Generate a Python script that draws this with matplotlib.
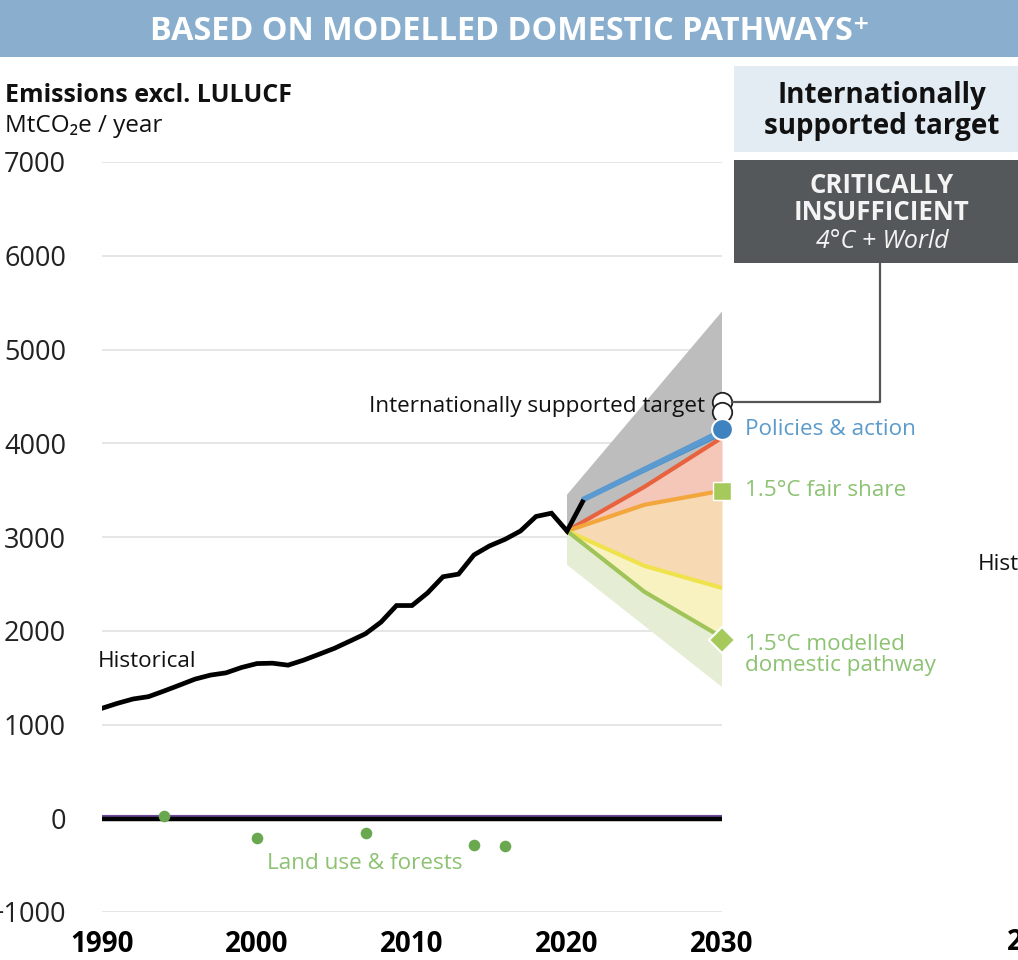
import matplotlib.pyplot as plt
from matplotlib.patches import Rectangle
from matplotlib.lines import Line2D
import numpy as np

plt.rcParams['font.family'] = ['Open Sans', 'DejaVu Sans']

# historical emissions excl. LULUCF, MtCO2e
hist_years = list(range(1990, 2022))
hist_vals = [1173, 1226, 1272, 1297, 1357, 1420, 1484, 1527, 1551, 1608,
             1650, 1654, 1633, 1686, 1749, 1813, 1890, 1968, 2092, 2269,
             2269, 2403, 2576, 2604, 2809, 2905, 2975, 3064, 3219, 3254,
             3064, 3375]

# rating band boundaries
path_years = [2020, 2025, 2030]
red_line = [3064, 3536, 4060]
orange_line = [3064, 3344, 3494]
yellow_line = [3064, 2692, 2457]
green_line = [3064, 2415, 1930]
edge_years = [2020, 2030]
gray_top = [3451, 5406]
green_low = [2703, 1400]

# policies & action range
pa_years = [2021, 2030]
pa_low = [3380, 4085]
pa_high = [3412, 4170]
pa_point = 4150

target_vals = [4444, 4338]
fair_share = 3494
modelled = 1900

# land use & forests
lu_years = [1994, 2000, 2007, 2014, 2016]
lu_vals = [20, -214, -160, -288, -300]

W, H = 1018, 960
fig = plt.figure(figsize=(W / 100, H / 100), dpi=100)

def px(x0, y0, x1, y1):
    return [x0 / W, 1 - y1 / H, (x1 - x0) / W, (y1 - y0) / H]

ax = fig.add_axes(px(102, 162, 722, 912))
ax.set_xlim(1990, 2030)
ax.set_ylim(-1000, 7000)
for s in ax.spines.values():
    s.set_visible(False)
ax.set_yticks(range(-1000, 8000, 1000))
ax.set_xticks([1990, 2000, 2010, 2020, 2030])
ax.tick_params(axis='y', length=0, pad=26, labelsize=19.5, labelcolor='#222222')
ax.tick_params(axis='x', length=0, pad=13, labelsize=20)
for lb in ax.get_xticklabels():
    lb.set_fontweight('bold')
ax.grid(axis='y', color='#e2e2e2', lw=1.2)
ax.set_axisbelow(True)

# bands
ax.fill(np.r_[edge_years, path_years[::-1]], np.r_[gray_top, red_line[::-1]],
        color='#bdbdbd', lw=0, zorder=2)
ax.fill_between(path_years, orange_line, red_line, color='#f4c7b8', lw=0, zorder=2)
ax.fill_between(path_years, yellow_line, orange_line, color='#f7dab3', lw=0, zorder=2)
ax.fill_between(path_years, green_line, yellow_line, color='#f8f2c0', lw=0, zorder=2)
ax.fill(np.r_[path_years, edge_years[::-1]], np.r_[green_line, green_low[::-1]],
        color='#e5eed5', lw=0, zorder=2)

ax.plot(path_years, red_line, color='#e8623e', lw=3, zorder=3)
ax.plot(path_years, orange_line, color='#f2a63c', lw=3, zorder=3)
ax.plot(path_years, yellow_line, color='#efe24c', lw=3, zorder=3)
ax.plot(path_years, green_line, color='#a0c45a', lw=3, zorder=3)
ax.fill_between(pa_years, pa_low, pa_high, color='#4d8fc6', lw=0, zorder=4)
ax.plot(pa_years, [(a + b) / 2 for a, b in zip(pa_low, pa_high)],
        color='#5a9ad0', lw=4, zorder=4, solid_capstyle='butt')

# historical
ax.plot(hist_years, hist_vals, color='black', lw=3.4, zorder=5, solid_joinstyle='miter')

# zero line and land use
ax.plot([1990, 2030], [15, 15], color='#6b4a9a', lw=3, zorder=5, solid_capstyle='butt')
ax.plot([1990, 2030], [-10, -10], color='black', lw=3.2, zorder=6, solid_capstyle='butt')
ax.scatter(lu_years, lu_vals, s=70, color='#6aa84f', zorder=7, lw=0)

# end markers
for v in target_vals:
    ax.plot([2030], [v], 'o', ms=14, mfc='white', mec='#222222', mew=1.3,
            zorder=9, clip_on=False)
ax.plot([2030], [pa_point], 'o', ms=15, mfc='#3f82c0', mec='white', mew=1.5,
        zorder=9, clip_on=False)
ax.plot([2030], [fair_share], 's', ms=13, mfc='#a6c95c', mec='white', mew=1,
        zorder=9, clip_on=False)
ax.plot([2030], [modelled], 'D', ms=13, mfc='#a6c95c', mec='white', mew=1.5,
        zorder=9, clip_on=False)

# labels
kw = dict(textcoords='offset pixels', va='center', fontsize=16.2, annotation_clip=False)
ax.annotate('Internationally supported target', (2030, np.mean(target_vals)),
            xytext=(-17, 0), ha='right', color='#111111', **kw)
ax.annotate('Policies & action', (2030, pa_point), xytext=(23, 0), ha='left',
            color='#5b9bcb', **kw)
ax.annotate('1.5°C fair share', (2030, fair_share), xytext=(23, 0), ha='left',
            color='#8cc272', **kw)
ax.annotate('1.5°C modelled\ndomestic pathway', (2030, modelled), xytext=(23, -15),
            ha='left', color='#8cc272', linespacing=1.0, **kw)
ax.annotate('Historical', (1990, hist_vals[0]), xytext=(-4, 47), ha='left',
            color='#111111', **kw)
ax.annotate('Land use & forests', (2000, min(lu_vals)), xytext=(10, -17), ha='left',
            color='#8cc272', **kw)

# connector from target markers up to the rating box
fig.canvas.draw()
x0, y0 = ax.transData.transform((2030, target_vals[0]))
inv = fig.transFigure.inverted()
p0 = inv.transform((x0 + 10, y0))
bx = 880 / W
fig.add_artist(Line2D([p0[0], bx, bx], [p0[1], p0[1], 1 - 263 / H],
                      color='#555555', lw=1.6))

# header banner
fig.add_artist(Rectangle((0, 1 - 57 / H), 1, 57 / H, color='#8aafce', lw=0))
fig.text(510 / W, 1 - 31 / H, 'BASED ON MODELLED DOMESTIC PATHWAYS⁺', color='white',
         fontsize=23.3, fontweight='bold', ha='center', va='center')

fig.text(5 / W, 1 - 96 / H, 'Emissions excl. LULUCF', fontsize=18, fontweight='bold',
         ha='left', va='center', color='#111111')
fig.text(5 / W, 1 - 126 / H, 'MtCO₂e / year', fontsize=17.5, ha='left', va='center',
         color='#111111')

# rating boxes
fig.add_artist(Rectangle((734 / W, 1 - 152 / H), 284 / W, 86 / H, color='#e4ecf3', lw=0))
fig.text(882 / W, 1 - 111 / H, 'Internationally\nsupported target', fontsize=20,
         fontweight='bold', ha='center', va='center', color='#111111', linespacing=1.05)
fig.add_artist(Rectangle((734 / W, 1 - 263 / H), 284 / W, 103 / H, color='#54585a', lw=0))
fig.text(882 / W, 1 - 199 / H, 'CRITICALLY\nINSUFFICIENT', fontsize=18.5,
         fontweight='bold', ha='center', va='center', color='#f4f4f4', linespacing=1.0)
fig.text(882 / W, 1 - 241 / H, '4°C + World', fontsize=18, style='italic',
         ha='center', va='center', color='#f4f4f4')

# edge of the neighbouring panel
fig.text(978 / W, 1 - 565 / H, 'Historical', fontsize=16.2, ha='left', va='center',
         color='#111111')
fig.text(1007 / W, 1 - 943 / H, '2030', fontsize=20, fontweight='bold', ha='left',
         va='center')

fig.savefig('out.png', dpi=100)
